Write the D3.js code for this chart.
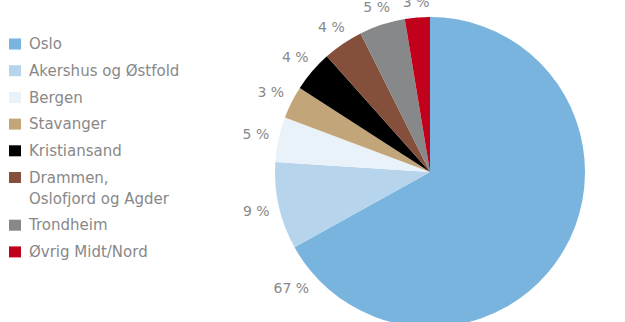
<!DOCTYPE html>
<html>
<head>
<meta charset="utf-8">
<script src="https://cdn.jsdelivr.net/npm/d3@7"></script>
<style>
  html, body { margin: 0; padding: 0; background: #fff; }
  svg { display: block; }
</style>
</head>
<body>
<svg id="chart"></svg>
<script>
// Data (clockwise from 12 o'clock)
const regions = ["Oslo", "Akershus og Østfold", "Bergen", "Stavanger", "Kristiansand",
                 "Drammen,\nOslofjord og Agder", "Trondheim", "Øvrig Midt/Nord"];
const shares = [67, 9.1, 4.7, 3.4, 4.3, 4.2, 4.8, 2.6];
const colors = ["#79b4df", "#b6d4ec", "#e9f1f9", "#c2a679", "#000000",
                "#85503b", "#87888a", "#c1001b"];

document.addEventListener("DOMContentLoaded", function() {
    const width = 625, height = 322;
    const cx = 430, cy = 172, radius = 155, labelGap = 164;

    const svg = d3.select("#chart")
        .attr("width", width)
        .attr("height", height);

    const data = regions.map((r, i) => ({ name: r, value: shares[i], color: colors[i] }));

    const pie = d3.pie().sort(null).value(d => d.value);
    const arc = d3.arc().innerRadius(0).outerRadius(radius);
    const arcs = pie(data);

    const g = svg.append("g")
        .attr("transform", `translate(${cx}, ${cy})`);

    g.selectAll("path").data(arcs)
        .enter().append("path")
        .attr("d", arc)
        .style("fill", d => d.data.color);

    // Percentage labels: the label box sits just outside the rim;
    // the big slice's label sits near its end so it stays in view
    g.selectAll("text.pct").data(arcs)
        .enter().append("text")
        .attr("class", "pct")
        .attr("text-anchor", "middle")
        .attr("dy", "0.35em")
        .style("font-family", "'DejaVu Sans', sans-serif")
        .style("font-size", "14px")
        .style("fill", "#888888")
        .text(d => Math.round(d.data.value) + " %")
        .each(function(d) {
            let a = (d.startAngle + d.endAngle) / 2;
            if (d.endAngle - d.startAngle > Math.PI) a = d.endAngle - 0.19;
            const hw = this.getComputedTextLength() / 2, hh = 5;
            const r = labelGap + hw * Math.abs(Math.sin(a)) + hh * Math.abs(Math.cos(a));
            d3.select(this)
                .attr("x", r * Math.sin(a))
                .attr("y", -r * Math.cos(a));
        });

    // Legend
    const legend = svg.append("g");
    let y = 44;
    data.forEach(function(d) {
        const lines = d.name.split("\n");
        legend.append("rect")
            .attr("x", 9)
            .attr("y", y - 5.5)
            .attr("width", 12)
            .attr("height", 11)
            .style("fill", d.color);
        const t = legend.append("text")
            .attr("x", 29)
            .attr("y", y)
            .style("font-family", "'DejaVu Sans', sans-serif")
            .style("font-size", "15px")
            .style("fill", "#888888");
        lines.forEach(function(line, i) {
            t.append("tspan")
                .attr("x", 29)
                .attr("dy", i === 0 ? "0.35em" : "21px")
                .text(line);
        });
        y += 26.7 + (lines.length - 1) * 21;
    });
});
</script>
</body>
</html>
